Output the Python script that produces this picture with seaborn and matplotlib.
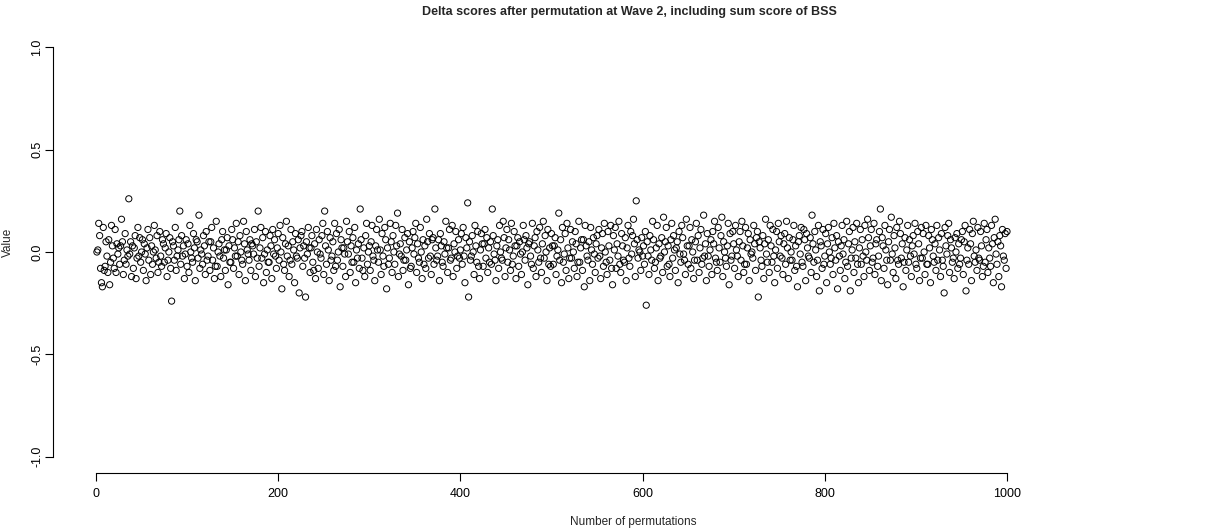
import numpy as np
import pandas as pd
import matplotlib
matplotlib.use("Agg")
import matplotlib.pyplot as plt
import seaborn as sns

title = "Delta scores after permutation at Wave 2, including sum score of BSS"
x_label = "Number of permutations"
y_label = "Value"
x_ticks = [0, 200, 400, 600, 800, 1000]
y_ticks = [-1.0, -0.5, 0.0, 0.5, 1.0]

delta = [
    0.00, 0.01, 0.14, 0.08, -0.08, -0.15, -0.17, 0.12, -0.09, -0.07, 0.05, -0.02, -0.10, 0.06, -0.16, -0.05, 0.13, 0.03, -0.03, -0.08, 0.11, -0.10, 0.04, -0.01, 0.02,
    -0.06, 0.03, 0.16, 0.05, -0.11, -0.04, 0.09, -0.06, 0.01, -0.02, 0.26, -0.01, 0.05, -0.12, 0.03, -0.08, 0.02, 0.08, -0.13, -0.03, 0.12, -0.02, 0.07, -0.05, 0.00,
    0.06, -0.09, 0.04, -0.01, -0.14, 0.02, 0.11, -0.04, 0.07, -0.11, 0.03, -0.06, 0.00, 0.13, 0.01, -0.03, 0.08, -0.10, -0.05, 0.10, -0.02, -0.07, 0.06, 0.04, -0.05,
    0.02, 0.09, -0.12, -0.04, 0.00, 0.07, -0.08, -0.24, 0.05, 0.03, -0.04, 0.12, -0.09, -0.02, 0.01, 0.06, 0.20, -0.06, 0.08, -0.02, 0.03, -0.13, -0.01, 0.06, -0.07,
    0.04, -0.10, 0.13, 0.00, -0.03, -0.05, 0.09, 0.02, -0.14, 0.06, 0.05, -0.03, 0.18, -0.08, 0.01, -0.01, -0.06, 0.08, 0.03, -0.11, 0.10, -0.04, -0.02, 0.05, -0.09,
    0.05, 0.12, -0.04, 0.02, -0.13, -0.07, 0.15, -0.07, 0.00, 0.04, -0.02, -0.12, 0.06, 0.10, -0.03, 0.01, -0.09, 0.01, 0.07, -0.16, 0.03, -0.05, -0.05, 0.11, 0.06,
    -0.08, 0.02, -0.02, 0.14, -0.02, 0.05, -0.11, 0.08, 0.00, -0.04, -0.06, 0.15, 0.04, -0.14, 0.10, 0.01, -0.01, -0.04, 0.06, -0.09, 0.04, 0.03, -0.01, 0.11, -0.12,
    0.05, -0.03, 0.20, -0.07, 0.02, 0.12, -0.03, 0.07, -0.15, -0.01, 0.10, -0.10, 0.01, -0.05, -0.05, 0.08, 0.03, -0.13, 0.11, -0.01, 0.06, -0.02, -0.08, 0.02, 0.09,
    -0.04, 0.13, 0.00, -0.18, 0.07, -0.06, -0.09, 0.04, 0.15, -0.02, 0.03, -0.12, -0.04, 0.11, -0.06, 0.05, 0.01, -0.15, 0.09, -0.02, -0.03, 0.06, -0.20, 0.02, 0.08,
    0.10, -0.07, 0.03, -0.03, -0.22, 0.05, -0.01, 0.12, 0.02, -0.10, 0.02, 0.08, -0.05, -0.09, 0.04, -0.13, 0.11, 0.00, -0.08, 0.06, -0.01, -0.03, 0.08, 0.14, -0.11,
    0.20, 0.03, -0.06, 0.10, 0.01, -0.14, 0.07, -0.04, -0.02, 0.05, -0.09, 0.14, -0.07, 0.09, -0.04, 0.00, 0.11, -0.17, 0.06, 0.02, -0.07, 0.02, -0.01, -0.12, 0.15,
    0.05, -0.01, 0.10, -0.10, 0.03, -0.05, 0.07, -0.05, 0.12, -0.15, 0.01, -0.03, 0.04, -0.08, 0.21, 0.06, -0.03, -0.09, 0.02, -0.12, 0.08, 0.14, -0.06, 0.00, 0.03,
    -0.09, 0.05, 0.13, -0.02, -0.04, -0.14, 0.03, 0.11, 0.01, -0.05, 0.16, 0.01, -0.11, 0.09, -0.02, -0.07, 0.12, 0.06, -0.18, 0.02, -0.06, -0.03, 0.14, 0.05, -0.10,
    0.08, 0.00, -0.06, 0.13, 0.03, 0.19, -0.12, -0.01, 0.04, -0.02, 0.11, -0.09, -0.04, 0.07, -0.04, 0.01, 0.09, -0.16, 0.05, -0.08, -0.07, 0.02, 0.10, -0.01, 0.07,
    0.14, -0.10, 0.04, -0.03, -0.05, 0.12, 0.00, -0.13, 0.06, -0.06, 0.03, -0.08, 0.16, 0.05, -0.03, 0.09, -0.02, -0.11, 0.06, 0.07, -0.06, 0.21, 0.02, -0.04, -0.02,
    0.06, -0.14, 0.09, 0.03, -0.05, -0.07, 0.05, -0.01, 0.15, 0.02, -0.10, 0.02, 0.11, -0.04, -0.03, 0.13, -0.12, 0.04, 0.00, 0.10, -0.08, -0.02, 0.06, -0.03, 0.01,
    0.09, -0.06, 0.12, -0.02, -0.15, 0.07, 0.02, 0.24, -0.22, 0.05, -0.04, -0.02, 0.08, 0.00, -0.11, 0.13, 0.03, -0.05, 0.10, -0.07, -0.13, 0.01, 0.09, 0.04, -0.07,
    0.04, 0.11, -0.03, 0.07, -0.10, 0.02, -0.05, 0.05, -0.06, 0.21, 0.08, -0.01, -0.04, -0.14, 0.03, 0.06, -0.08, 0.13, 0.00, -0.03, -0.04, 0.15, 0.07, -0.12, 0.02,
    0.11, -0.05, 0.06, 0.01, -0.09, 0.14, -0.06, -0.02, 0.10, 0.03, -0.13, 0.03, 0.07, -0.07, 0.05, -0.01, -0.11, 0.00, 0.13, 0.06, -0.04, 0.08, 0.02, -0.16, 0.04,
    0.05, -0.02, -0.06, 0.14, -0.08, 0.03, 0.07, -0.12, 0.10, 0.01, -0.05, 0.12, -0.03, -0.10, 0.04, 0.15, -0.03, 0.08, 0.00, -0.14, 0.11, -0.06, 0.02, -0.07, 0.09,
    0.03, -0.06, 0.03, 0.07, -0.11, -0.02, 0.01, 0.19, -0.04, 0.06, -0.15, 0.12, -0.05, -0.01, 0.09, -0.09, 0.14, 0.02, -0.13, -0.03, 0.11, -0.03, 0.05, 0.00, -0.08,
    0.10, 0.04, -0.12, -0.05, 0.15, -0.05, 0.02, 0.06, -0.09, 0.06, -0.17, 0.13, 0.03, -0.02, -0.04, 0.05, -0.14, 0.12, 0.01, -0.06, 0.07, -0.01, -0.10, 0.04, 0.08,
    -0.03, 0.11, -0.02, -0.13, 0.02, 0.09, -0.07, 0.14, 0.00, -0.05, -0.11, 0.10, 0.03, -0.04, 0.13, -0.08, -0.16, 0.08, 0.01, 0.12, -0.08, 0.04, -0.02, 0.15, -0.06,
    -0.10, 0.09, 0.03, -0.04, -0.05, 0.07, -0.14, 0.02, 0.13, -0.03, -0.07, 0.10, -0.01, 0.08, 0.16, 0.04, -0.12, 0.25, 0.06, -0.03, 0.01, 0.00, -0.09, 0.07, -0.02,
    0.03, -0.06, 0.10, -0.26, 0.05, -0.02, -0.11, 0.08, 0.01, -0.04, 0.15, 0.06, -0.08, -0.05, 0.02, 0.13, -0.14, 0.04, -0.03, -0.02, 0.07, -0.10, 0.17, 0.00, 0.05,
    0.12, -0.07, 0.03, -0.06, -0.12, 0.06, 0.14, -0.03, 0.08, 0.01, -0.09, 0.02, 0.05, -0.15, 0.10, -0.01, -0.05, 0.13, 0.07, -0.01, -0.04, -0.11, 0.16, 0.03, -0.06,
    0.03, 0.12, -0.08, 0.06, 0.00, -0.13, -0.04, 0.05, 0.14, -0.04, 0.08, -0.10, 0.02, 0.11, -0.06, -0.03, 0.18, -0.02, 0.04, -0.14, 0.09, -0.02, -0.07, 0.01, 0.06,
    -0.11, 0.10, 0.04, 0.15, -0.03, -0.05, -0.09, 0.12, 0.02, -0.05, 0.08, 0.17, -0.12, 0.05, 0.00, -0.03, -0.07, 0.03, 0.14, -0.16, 0.09, -0.04, -0.02, 0.10, 0.04,
    -0.08, 0.13, 0.01, -0.02, -0.12, 0.05, 0.10, -0.04, 0.15, 0.03, -0.10, -0.06, 0.12, -0.06, 0.02, 0.09, -0.14, 0.06, -0.01, 0.00, -0.03, 0.13, 0.04, -0.09, 0.07,
    0.10, -0.22, 0.05, 0.02, -0.04, -0.07, 0.08, -0.13, 0.04, 0.16, -0.01, -0.05, 0.06, -0.10, 0.13, 0.03, -0.05, 0.11, -0.02, -0.15, 0.01, 0.10, -0.08, 0.14, 0.05,
    -0.02, 0.08, -0.03, -0.11, 0.04, 0.09, -0.06, 0.15, 0.02, -0.13, 0.07, -0.04, 0.00, -0.04, 0.06, 0.13, -0.09, 0.03, -0.07, -0.17, 0.05, 0.08, -0.01, 0.12, -0.05,
    -0.07, 0.11, 0.06, -0.14, 0.09, 0.02, -0.02, -0.03, 0.07, -0.10, 0.18, 0.04, -0.05, 0.10, 0.01, -0.12, -0.04, 0.13, -0.19, 0.05, 0.03, -0.08, 0.11, -0.06, -0.02,
    0.09, -0.15, 0.04, 0.12, 0.00, -0.06, -0.03, 0.07, -0.11, 0.14, 0.02, -0.04, 0.08, -0.18, 0.05, -0.02, -0.09, 0.03, 0.13, -0.01, 0.06, -0.13, -0.05, 0.15, -0.07,
    0.04, 0.10, -0.19, -0.03, 0.01, 0.12, -0.10, 0.05, -0.03, 0.14, -0.06, -0.15, 0.02, 0.11, -0.06, 0.06, -0.02, -0.12, 0.13, 0.00, -0.04, 0.16, 0.07, -0.09, 0.03,
    0.11, -0.05, -0.03, 0.14, -0.11, 0.04, 0.06, -0.07, -0.02, 0.10, 0.21, -0.14, 0.07, 0.03, -0.08, 0.13, 0.01, -0.04, -0.16, 0.05, 0.11, -0.04, 0.17, -0.01, -0.10,
    0.08, 0.02, -0.13, 0.12, -0.04, -0.06, 0.15, 0.09, -0.03, 0.04, -0.17, -0.05, 0.07, -0.09, 0.01, 0.13, -0.05, 0.06, -0.02, -0.12, 0.03, 0.08, -0.01, 0.14, -0.06,
    -0.08, 0.10, 0.04, -0.14, -0.03, 0.12, -0.03, 0.09, 0.00, -0.11, 0.13, -0.06, -0.06, 0.08, 0.02, -0.15, 0.11, 0.06, -0.02, -0.05, 0.04, -0.09, 0.13, -0.04, 0.07,
    0.01, -0.12, 0.09, -0.04, -0.07, -0.20, 0.12, 0.03, -0.01, 0.08, 0.14, -0.10, 0.06, 0.02, -0.05, -0.03, -0.13, 0.07, 0.00, 0.09, -0.08, 0.04, -0.06, -0.03, 0.06,
    0.10, -0.11, 0.05, 0.13, -0.19, -0.04, 0.02, -0.06, 0.11, 0.04, -0.14, 0.09, 0.15, -0.02, -0.05, 0.01, -0.09, 0.12, -0.03, -0.04, 0.10, 0.03, -0.12, -0.07, 0.14,
    -0.05, 0.06, 0.11, -0.10, 0.02, -0.03, -0.07, 0.13, 0.04, -0.15, 0.07, 0.16, -0.01, -0.06, 0.05, -0.12, 0.08, 0.03, -0.17, 0.11, -0.02, -0.04, 0.09, -0.08, 0.10,
]
perm_index = list(range(1, len(delta) + 1))

sns.set_style("white")
plt.rcParams["font.family"] = ["Liberation Sans", "DejaVu Sans"]

W, H = 1216, 532
fig = plt.figure(figsize=(W / 100, H / 100), dpi=100)
left_px, right_px, top_px, bottom_px = 53, 1216, 31, 473
ax = fig.add_axes([left_px / W, 1 - bottom_px / H, (right_px - left_px) / W, (bottom_px - top_px) / H])

df = pd.DataFrame({"perm": perm_index, "delta": delta})
sns.scatterplot(data=df, x="perm", y="delta", ax=ax, marker="o", s=20,
                facecolors="none", edgecolor="black", linewidth=0.7, legend=False)

scale = (1007 - 96) / 1000
ax.set_xlim((left_px - 96) / scale, (right_px - 96) / scale)
ax.set_ylim(-1.08, 1.08)

ax.set_xticks(x_ticks)
ax.set_xticklabels([str(t) for t in x_ticks], fontsize=9)
ax.set_yticks(y_ticks)
ax.set_yticklabels([f"{t:.1f}" for t in y_ticks], fontsize=9, rotation=90, va="center")

for s in ["top", "right"]:
    ax.spines[s].set_visible(False)
ax.spines["bottom"].set_bounds(0, 1000)
ax.spines["left"].set_bounds(-1, 1)
for s in ["bottom", "left"]:
    ax.spines[s].set_color("black")
    ax.spines[s].set_linewidth(0.8)
ax.tick_params(axis="both", direction="out", length=6, width=0.8, color="black",
               labelcolor="black", bottom=True, left=True)
ax.tick_params(axis="x", pad=5)
ax.tick_params(axis="y", pad=1)
ax.set_xlabel("")
ax.set_ylabel("")

fig.text(629 / W, 1 - 12 / H, title, ha="center", va="center", fontsize=9, fontweight="bold")
fig.text(633 / W, 1 - 522 / H, x_label, ha="center", va="center", fontsize=8.5)
fig.text(8 / W, 1 - 242 / H, y_label, ha="center", va="center", fontsize=8.5, rotation=90)

fig.savefig("out.png", dpi=100)
